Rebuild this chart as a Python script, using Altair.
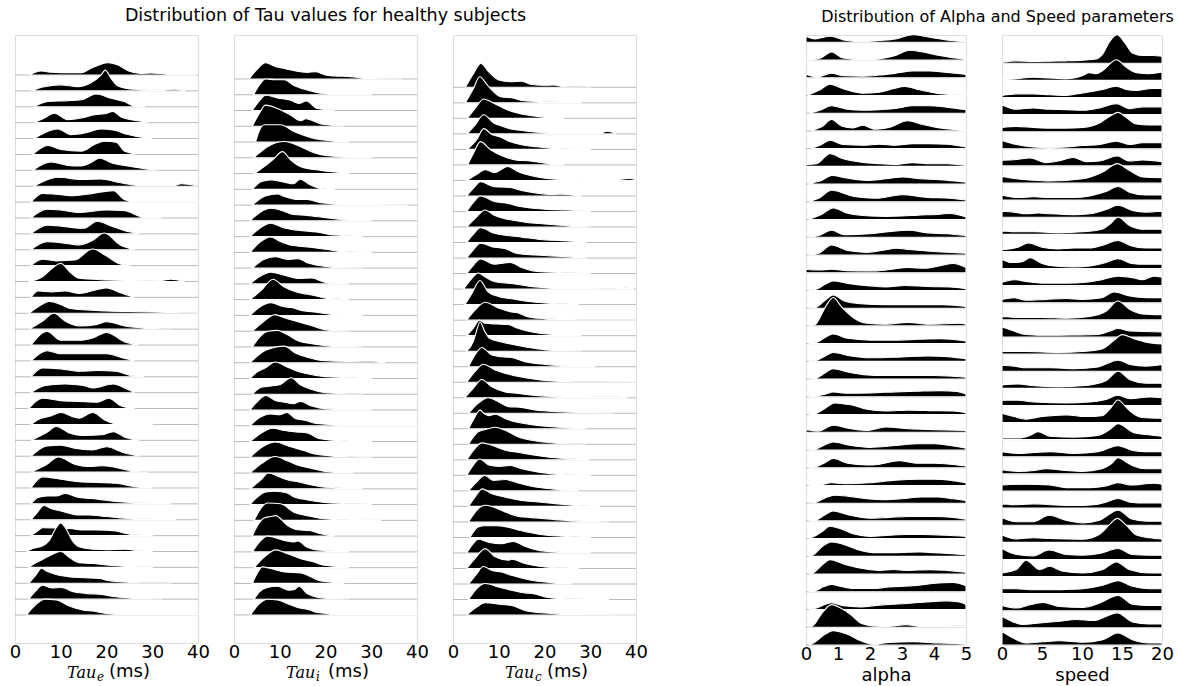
import altair as alt
import pandas as pd

# ---------------- data ----------------
# each row: list of (x, height) control points; height in units of the row spacing
TAU_E_ROWS = [
    [(3.1,0),(5.7,0.25),(8,0.17),(10,0.15),(14.5,0.15),(16.6,0.42),(20.3,0.78),(22.5,0.63),(24.7,0.27),(27.6,0.1),(29.8,0.13),(33.4,0.06),(39.6,0.03)],
    [(3.5,0),(6.4,0.27),(10,0.38),(13.7,0.27),(16.6,0.52),(18.8,1.0),(19.7,1.31),(21,0.79),(22.5,0.31),(26,0.1),(29.8,0.06),(34.9,0.1),(37.1,0.04)],
    [(4.2,0),(7.2,0.33),(11.5,0.38),(14.5,0.44),(17.7,0.81),(21,0.54),(23.9,0.33),(26,0.06),(28.3,0.02)],
    [(4.2,0),(6.4,0.29),(8.6,0.6),(11.5,0.19),(14.5,0.29),(17.4,0.5),(19.6,0.56),(21.4,0.71),(23.2,0.35),(26,0.15),(29,0.04)],
    [(4.2,0),(6.4,0.35),(9.3,0.6),(12.3,0.25),(15.2,0.35),(18.8,0.6),(21.7,0.52),(24.7,0.25),(27.6,0.08),(29.8,0.04)],
    [(3.9,0),(7.2,0.56),(10,0.31),(14.5,0.21),(17.4,0.63),(19.6,0.83),(22.1,0.77),(23.9,0.21),(26,0.04)],
    [(3.9,0),(7.9,0.52),(11.5,0.31),(14.5,0.27),(16.6,0.48),(18.5,0.77),(21,0.48),(24.7,0.27),(28.3,0.1),(31.2,0.04)],
    [(4.2,0),(7.2,0.42),(9.3,0.56),(14.5,0.42),(18.8,0.46),(22.5,0.25),(26,0.08),(28.3,0.04),(34.5,0.04),(36.4,0.15),(39.6,0.04)],
    [(3.5,0),(6,0.55),(9,0.5),(13,0.4),(17,0.55),(21.5,0.72),(24,0.15),(26,0.05),(40,0.03)],
    [(3.5,0),(7,0.55),(10,0.5),(14,0.35),(20,0.5),(24,0.45),(28,0.05),(32,0.02)],
    [(3.5,0),(7,0.55),(11,0.45),(15,0.35),(18,0.8),(21,0.5),(24,0.2),(27,0.02)],
    [(3.5,0),(7,0.5),(10,0.45),(14,0.3),(17,0.6),(19.5,1.05),(23,0.3),(26,0.02)],
    [(3.5,0),(6,0.4),(9,0.3),(13,0.35),(17,1.05),(20,0.6),(23,0.1),(25,0.02)],
    [(3,0),(6,0.3),(8,0.8),(10,1.15),(12,0.6),(14,0.2),(20,0.1),(28,0.05),(32,0.06),(34,0.15),(37,0.02)],
    [(3.5,0),(5,0.4),(8,0.35),(11,0.4),(14,0.25),(18,0.5),(20,0.6),(23,0.3),(26,0.02)],
    [(3,0),(5,0.4),(7.5,0.75),(10,0.55),(12,0.3),(20,0.15),(28,0.1),(35,0.05),(40,0.02)],
    [(3,0),(6,0.5),(8.5,1.0),(11,0.5),(14,0.2),(18,0.3),(20,0.47),(24,0.2),(30,0.05),(34,0.02)],
    [(3.5,0),(7,0.85),(10,0.3),(14,0.3),(17,0.45),(20,0.8),(24,0.2),(27,0.02)],
    [(3.5,0),(7,0.65),(10,0.45),(15,0.45),(20,0.45),(24,0.15),(26,0.02)],
    [(3.5,0),(6,0.55),(10,0.5),(14,0.35),(18,0.4),(22,0.35),(25,0.1),(28,0.02)],
    [(3.5,0),(6,0.4),(8,0.5),(11,0.55),(15,0.45),(17,0.3),(21.5,0.55),(24,0.3),(26,0.02)],
    [(3,0),(6,0.65),(10,0.5),(14,0.45),(18,0.4),(20.5,0.65),(23,0.2),(26,0.02)],
    [(3.5,0),(5,0.3),(8,0.55),(10,0.75),(13,0.45),(14,0.4),(17,0.75),(19.5,0.3),(22,0.05),(27,0.05),(30,0.02)],
    [(3.5,0),(7,0.5),(9,0.87),(12,0.45),(15,0.3),(19,0.35),(21.5,0.55),(24,0.2),(27,0.02)],
    [(3.5,0),(7,0.65),(10,0.7),(13,0.5),(17,0.4),(20,0.6),(24,0.2),(27,0.02)],
    [(3.5,0),(7,0.5),(9.5,0.95),(13,0.5),(16,0.35),(19,0.4),(22,0.3),(26,0.05),(29,0.02)],
    [(3.5,0),(6,0.7),(10,0.55),(14,0.4),(18,0.35),(22,0.3),(26,0.1),(30,0.02)],
    [(3.5,0),(5,0.4),(7,0.5),(9,0.5),(11,0.65),(14,0.4),(18,0.3),(22,0.15),(30,0.05),(31,0.05),(34,0.02)],
    [(3.5,0),(5,0.5),(6.3,0.9),(8,0.7),(10,0.55),(14,0.3),(16,0.3),(20,0.2),(24,0.1),(30,0.04),(35,0.02)],
    [(3.5,0),(5,0.3),(6,0.5),(9,0.48),(12,0.45),(15,0.35),(18,0.35),(22,0.3),(24,0.15),(26,0.05),(30,0.02)],
    [(2.5,0),(4,0.2),(6,0.35),(7.5,0.7),(9,1.5),(10,1.8),(11,1.5),(12.5,0.7),(14,0.3),(17,0.15),(20,0.12),(24,0.15),(27,0.05),(30,0.02)],
    [(3,0),(4,0.2),(6,0.5),(8,0.8),(10,1.0),(12,0.6),(14,0.3),(17,0.25),(20,0.15),(26,0.05),(30,0.02)],
    [(3,0),(4.5,0.5),(5.8,0.95),(7,0.75),(9,0.55),(12,0.4),(15,0.35),(18.5,0.3),(20,0.2),(23,0.1),(30,0.03),(34,0.02)],
    [(3,0),(4.5,0.5),(6,0.88),(8,0.7),(10,0.73),(13,0.45),(16,0.35),(19,0.3),(22,0.15),(28,0.05),(32,0.02)],
    [(2.5,0),(4,0.5),(6.5,1.0),(9,0.95),(12,0.55),(15,0.3),(17,0.25),(20,0.1),(24,0.05),(40,0.03)],
]

TAU_I_ROWS = [
    [(3.3,0),(5,0.6),(6.9,1.03),(9,0.8),(11,0.67),(14.6,0.46),(16,0.42),(17.9,0.46),(20,0.25),(21.9,0.19),(25.5,0.15),(29,0.05),(36.5,0.01)],
    [(4.3,0),(5.5,0.6),(6.9,1.0),(9,0.95),(11,0.95),(13,0.6),(16,0.3),(19,0.1),(25,0.03),(30,0.01)],
    [(4,0),(5.5,0.6),(6.9,0.97),(9.5,0.8),(12.4,0.65),(14.2,0.45),(15.8,0.6),(18.2,0.13),(21.9,0.03)],
    [(4,0),(5.5,0.8),(6.9,1.34),(9.5,1.13),(12.4,0.7),(14.6,0.36),(15.7,0.48),(19,0.15),(24,0.03)],
    [(4.7,0),(5.5,0.7),(6.6,1.1),(10.2,1.1),(13.1,0.67),(16,0.36),(19,0.15),(25,0.03)],
    [(4.3,0),(5.1,0.2),(7.3,0.7),(11,1.03),(14.6,0.7),(16.8,0.4),(19,0.2),(25,0.05),(30,0.01)],
    [(4.5,0),(6.6,0.44),(8.4,0.86),(10.6,1.39),(12.4,0.86),(14.6,0.44),(19,0.2),(25,0.03)],
    [(4,0),(6,0.5),(8,0.6),(11,0.45),(13,0.35),(14.5,0.65),(16.5,0.3),(19,0.05),(22,0.01)],
    [(4,0),(7,0.6),(9.5,0.7),(11,0.55),(14,0.35),(16,0.35),(19,0.15),(24,0.05),(38,0.02)],
    [(3.5,0),(5.5,0.5),(8,0.8),(11,0.6),(13,0.4),(16,0.35),(20,0.2),(25,0.05),(30,0.01)],
    [(3.5,0),(5.5,0.5),(8,0.85),(11,0.55),(14,0.4),(18,0.3),(22,0.1),(28,0.03)],
    [(3.5,0),(5.5,0.6),(8,0.98),(10,0.7),(12.5,0.45),(16,0.35),(20,0.2),(24,0.05),(30,0.01)],
    [(4,0),(6.5,0.55),(9,0.72),(12,0.55),(14,0.6),(16,0.35),(19,0.15),(23,0.05),(28,0.01)],
    [(3.5,0),(5.5,0.45),(8,0.75),(11,0.55),(14,0.35),(17,0.38),(20,0.1),(25,0.03)],
    [(3.5,0),(6,0.6),(8.5,1.3),(11,0.8),(13,0.55),(15,0.4),(17,0.3),(20,0.1),(25,0.02)],
    [(3.5,0),(5.5,0.5),(8,0.8),(11,0.55),(12.5,0.5),(15,0.3),(18,0.2),(22,0.05),(28,0.01)],
    [(4,0),(6,0.5),(9,1.05),(11,0.85),(14,0.6),(17,0.35),(20,0.1),(25,0.02)],
    [(4,0),(5.5,0.6),(7.5,1.0),(9.5,1.05),(11.5,0.8),(14,0.4),(17,0.2),(22,0.05),(28,0.01)],
    [(3.5,0),(5,0.4),(7,0.8),(11,1.05),(13.5,0.6),(16,0.35),(19,0.15),(25,0.08),(30,0.1),(33,0.01)],
    [(3.5,0),(5,0.4),(7,0.7),(9,1.05),(11.5,0.75),(14,0.45),(16,0.3),(19,0.15),(25,0.05),(30,0.01)],
    [(4,0),(6,0.45),(9,0.55),(10,0.6),(12.5,1.05),(14.5,0.6),(17,0.3),(20,0.1),(28,0.03)],
    [(3.5,0),(5,0.5),(7,0.92),(9,0.6),(11,0.5),(13,0.4),(14.5,0.55),(17,0.25),(20,0.08),(30,0.03)],
    [(3.5,0),(5.5,0.5),(8,0.75),(10,0.7),(11.5,0.85),(13.5,0.45),(15.5,0.35),(18,0.15),(25,0.05),(40,0.02)],
    [(3.5,0),(5.5,0.45),(8.5,0.85),(11,0.7),(14,0.6),(16,0.55),(18.5,0.2),(24,0.05),(30,0.01)],
    [(3.5,0),(5,0.4),(7,0.8),(9,0.97),(12,0.7),(15,0.45),(18,0.2),(24,0.05),(30,0.01)],
    [(3.5,0),(6,0.6),(9,1.05),(11.5,0.8),(14,0.5),(17,0.3),(20,0.1),(26,0.03)],
    [(3.5,0),(6,0.6),(7.5,1.0),(10,0.75),(12,0.55),(14,0.45),(17,0.25),(20,0.1),(28,0.03)],
    [(3.5,0),(5,0.45),(7,0.8),(9,0.85),(11.5,0.75),(13,0.5),(15,0.35),(18,0.2),(21,0.1),(30,0.03)],
    [(4.4,0),(5.5,0.6),(7.3,1.1),(10.2,1.05),(13.1,0.52),(16,0.3),(19.7,0.1),(25.5,0.03),(32,0.01)],
    [(4,0),(5,0.6),(6.6,1.15),(8,1.24),(9.1,1.3),(11.7,0.67),(13.9,0.4),(16.4,0.36),(19,0.15),(21.9,0.03)],
    [(4,0),(5.5,0.6),(7.3,1.0),(11,0.73),(13.1,0.63),(13.9,0.69),(16,0.3),(19,0.1),(25,0.02)],
    [(4.4,0),(6.6,0.67),(9.1,1.13),(11.7,0.88),(14.6,0.57),(17.5,0.36),(19.7,0.15),(25,0.03)],
    [(4,0),(5,0.6),(6.2,1.05),(8,0.95),(11,0.73),(14.6,0.67),(16.8,0.42),(19,0.15),(24,0.03)],
    [(4.4,0),(5.5,0.45),(7.3,0.74),(9.5,0.82),(12,0.57),(13.1,0.6),(14.2,0.82),(16,0.36),(19,0.1),(25,0.02)],
    [(3.6,0),(5.5,0.7),(7.3,1.0),(9.5,0.95),(12.4,0.63),(14.6,0.42),(16,0.36),(18.2,0.15),(24,0.03),(40,0.02)],
]

TAU_C_ROWS = [
    [(2.7,0),(4.5,0.9),(6.1,1.53),(7.8,1.0),(10,0.47),(12.5,0.36),(15.1,0.4),(16.9,0.2),(19.8,0.13),(22,0.15),(24.2,0.05),(30,0.02)],
    [(2.7,0),(4.5,0.94),(5.8,1.68),(7.8,1.04),(10.4,0.4),(13.3,0.3),(15.5,0.13),(19,0.08),(28,0.02)],
    [(3.1,0),(4.9,0.66),(6.7,1.25),(8.9,0.98),(11.8,0.55),(14.7,0.3),(18.4,0.13),(24.2,0.03)],
    [(3.1,0),(4.9,0.6),(6.7,1.23),(8.9,0.7),(10.7,0.5),(12.2,0.35),(14.7,0.23),(18.4,0.1),(25.7,0.02),(31.9,0.02),(33.7,0.17),(35.5,0.01)],
    [(3.1,0),(5.2,0.64),(6.7,1.34),(8.5,0.96),(10.3,0.8),(12.2,0.53),(14.7,0.32),(18.4,0.17),(22.7,0.06),(30,0.02)],
    [(3.2,0),(4.5,0.77),(6,1.5),(8.2,0.98),(11.1,0.55),(14,0.3),(16.9,0.26),(19.8,0.13),(24.2,0.04)],
    [(3,0),(5.5,0.45),(7,0.7),(9,0.5),(12,0.9),(14,0.6),(16.5,0.35),(20,0.15),(25,0.05),(35,0.02),(38.5,0.13),(40,0.05)],
    [(3,0),(4.5,0.5),(6,0.92),(9,0.6),(12.5,0.55),(15,0.35),(18,0.2),(22,0.1),(23.5,0.12),(28,0.03)],
    [(3,0),(4.5,0.6),(6,1.0),(9,0.65),(11.5,0.55),(15,0.3),(20,0.15),(24.5,0.1),(28,0.05),(30,0.01)],
    [(3,0),(5,0.6),(7,1.1),(9,0.75),(12,0.5),(16,0.3),(20,0.2),(27,0.05),(30,0.01)],
    [(3,0),(4.5,0.55),(6,0.95),(9,0.6),(12,0.45),(15,0.35),(19,0.2),(24,0.12),(29,0.03)],
    [(3,0),(4.5,0.55),(6,0.95),(9,0.7),(11.5,0.6),(14,0.3),(18,0.2),(24,0.1),(29,0.03)],
    [(3,0),(4.5,0.55),(6,0.95),(9,0.6),(12.5,0.72),(15,0.4),(18,0.15),(25,0.05),(30,0.01)],
    [(2.3,0),(4.1,0.68),(5.5,1.04),(7,0.79),(9.2,0.47),(12.8,0.36),(16.5,0.19),(23.8,0.06),(35,0.02),(37.6,0.08),(39.5,0.02)],
    [(2.6,0),(4.1,0.7),(5.9,1.55),(7.7,0.81),(9.9,0.53),(12.8,0.38),(15.7,0.23),(20.1,0.1),(27.4,0.02)],
    [(3,0),(4.8,0.64),(7,1.15),(9.9,0.79),(12.8,0.53),(13.9,0.49),(16.5,0.21),(20.1,0.1),(28,0.03),(40,0.02)],
    [(3,0),(4.4,0.47),(5.8,1.0),(7,0.8),(9.5,0.75),(12,0.72),(14,0.5),(17,0.25),(21,0.1),(22.5,0.08),(28,0.02)],
    [(3,0),(4.4,0.6),(5.2,1.35),(5.9,1.88),(7,1.24),(8.1,0.81),(10.6,0.6),(12.8,0.45),(16.5,0.24),(20.1,0.1),(28,0.02)],
    [(3.4,0),(4.8,0.75),(6.3,1.24),(8.5,0.75),(10.6,0.64),(12.8,0.6),(15.7,0.32),(19.4,0.17),(23.8,0.06),(31,0.02)],
    [(3,0),(4.8,0.68),(6.6,1.16),(9.2,0.79),(12.8,0.47),(16.5,0.26),(20.1,0.11),(27,0.03),(37,0.02),(39,0.06),(40,0.02)],
    [(2.6,0),(4.4,0.6),(6.3,1.18),(8.5,0.7),(11.4,0.38),(14.3,0.28),(17.2,0.17),(21.6,0.08),(27,0.04),(31.8,0.06),(35.4,0.06),(38,0.02)],
    [(3.4,0),(5.5,0.64),(7.7,1.0),(9.9,0.75),(12.1,0.43),(15,0.38),(17.9,0.21),(23.8,0.1),(31,0.04),(35,0.01)],
    [(3.4,0),(4.8,0.77),(5.9,1.2),(7,0.94),(7.8,0.85),(9.2,0.94),(11.4,0.66),(13.6,0.45),(16.5,0.3),(21.6,0.13),(28.9,0.04)],
    [(3.4,0),(5.5,0.8),(7.7,1.0),(9.2,1.1),(11.4,0.9),(14.3,0.47),(17.2,0.26),(21.6,0.1),(28.9,0.02)],
    [(3,0),(4.8,0.73),(6.3,1.09),(8.5,0.94),(11.4,0.62),(15,0.45),(17.9,0.3),(22.3,0.13),(29.6,0.03)],
    [(3,0),(4.4,0.64),(5.8,1.05),(8,0.65),(10,0.58),(12.5,0.64),(15,0.43),(18.7,0.21),(23.8,0.06),(30,0.02)],
    [(3.4,0),(5.2,0.58),(6.9,1.0),(8.8,0.68),(11.4,0.73),(14.3,0.51),(17.2,0.3),(21.6,0.13),(27.4,0.03)],
    [(3.4,0),(4.8,0.6),(6.4,1.13),(8.5,0.81),(11.4,0.6),(15,0.38),(18.7,0.28),(22.3,0.17),(27.4,0.06),(32,0.02)],
    [(3.4,0),(5.2,0.75),(7,1.07),(8.8,0.96),(11.4,0.64),(14.3,0.36),(17.2,0.28),(22.3,0.15),(29.6,0.04),(34,0.01)],
    [(3.7,0),(5.5,0.68),(7,0.75),(9.5,0.75),(11.7,0.68),(15,0.43),(18.7,0.21),(23.8,0.08),(30,0.02)],
    [(3,0),(4.4,0.6),(5.5,0.88),(7.7,0.7),(10.6,0.6),(13.2,0.75),(15.7,0.43),(18.7,0.17),(23.8,0.06),(30,0.02)],
    [(3,0),(4.8,0.64),(7,1.28),(9.2,0.75),(12.1,0.53),(12.8,0.6),(15.7,0.32),(20.1,0.1),(27.4,0.02)],
    [(3.4,0),(5.2,0.66),(6.6,1.13),(8.5,0.88),(10.6,0.77),(12.8,0.56),(16.5,0.28),(20.1,0.13),(25.9,0.03)],
    [(3.4,0),(5.2,0.7),(7,1.03),(9.9,0.81),(12.8,0.6),(15.7,0.43),(17.6,0.38),(20.1,0.17),(23.8,0.06),(34,0.01)],
    [(3,0),(5.2,0.51),(7,0.79),(10.6,0.68),(12.8,0.62),(15.7,0.3),(20.1,0.13),(27.4,0.04),(40,0.02)],
]

ALPHA_ROWS = [
    [(0,0.34),(0.28,0.19),(0.75,0.34),(1.27,0.1),(1.78,0.04),(2.3,0.1),(2.8,0.19),(3.34,0.42),(3.86,0.28),(4.4,0.13),(5,0.04)],
    [(0,0.02),(0.44,0.1),(0.8,0.45),(1.16,0.11),(1.78,0.04),(2.3,0.08),(2.8,0.26),(3.24,0.55),(3.65,0.45),(4.17,0.26),(4.67,0.11),(5,0.04)],
    [(0,0.19),(0.33,0.04),(0.8,0.25),(1.16,0.11),(1.78,0.09),(2.3,0.15),(2.8,0.25),(3.34,0.38),(3.86,0.38),(4.4,0.3),(5,0.19)],
    [(0.07,0.02),(0.44,0.32),(0.75,0.64),(1.16,0.38),(1.78,0.13),(2.3,0.19),(2.72,0.38),(3.08,0.51),(3.55,0.32),(4.07,0.13),(4.67,0.04),(5,0.02)],
    [(0.12,0.02),(0.44,0.17),(0.8,0.42),(1.27,0.23),(1.78,0.17),(2.3,0.2),(2.8,0.26),(3.34,0.42),(3.86,0.42),(4.4,0.34),(5,0.2)],
    [(0.18,0.02),(0.49,0.23),(0.8,0.64),(1.11,0.28),(1.47,0.17),(1.78,0.32),(2.15,0.09),(2.6,0.19),(3.18,0.57),(3.65,0.36),(4.17,0.17),(4.67,0.08),(5,0.04)],
    [(0.18,0.02),(0.44,0.19),(0.75,0.47),(1.16,0.23),(1.78,0.19),(2.3,0.25),(2.8,0.19),(3.34,0.28),(3.86,0.28),(4.4,0.25),(5,0.09)],
    [(0,0.11),(0.33,0.15),(0.75,0.72),(1.16,0.43),(1.68,0.25),(2.3,0.15),(2.8,0.11),(3.34,0.21),(3.86,0.15),(4.4,0.15),(5,0.06)],
    [(0.1,0.02),(0.23,0.08),(0.49,0.21),(0.8,0.49),(1.27,0.34),(1.89,0.21),(2.5,0.3),(3.03,0.4),(3.55,0.3),(4.17,0.25),(5,0.11)],
    [(0.1,0.02),(0.4,0.2),(0.8,0.65),(1.5,0.3),(2.2,0.2),(3.0,0.4),(3.8,0.25),(4.5,0.2),(5,0.1)],
    [(0.1,0.02),(0.5,0.3),(0.85,0.66),(1.3,0.35),(2,0.2),(2.5,0.18),(3,0.2),(3.5,0.25),(4.2,0.3),(4.5,0.35),(5,0.15)],
    [(0.1,0.02),(0.4,0.1),(0.8,0.4),(1.2,0.15),(2,0.2),(2.5,0.3),(3.2,0.4),(3.8,0.25),(4.4,0.2),(5,0.1)],
    [(0.1,0.02),(0.4,0.1),(0.8,0.57),(1.3,0.25),(1.9,0.15),(2.5,0.3),(2.8,0.38),(3.3,0.3),(4,0.2),(5,0.1)],
    [(0,0.2),(0.4,0.15),(0.8,0.2),(1.3,0.12),(2,0.1),(2.5,0.15),(3.2,0.3),(3.7,0.25),(4.2,0.4),(4.6,0.52),(5,0.3)],
    [(0.1,0.02),(0.3,0.05),(0.6,0.35),(0.85,0.54),(1.3,0.4),(2,0.25),(2.5,0.2),(3.1,0.28),(3.8,0.22),(4.5,0.2),(5,0.1)],
    [(0.1,0.02),(0.3,0.05),(0.6,0.45),(0.85,0.75),(1.2,0.4),(1.7,0.25),(2.5,0.2),(3.5,0.2),(4.3,0.2),(5,0.1)],
    [(0.1,0.02),(0.3,0.1),(0.5,0.7),(0.65,1.2),(0.85,1.6),(1.1,1.1),(1.45,0.5),(1.9,0.15),(2.5,0.1),(3.2,0.2),(3.8,0.1),(4.3,0.12),(4.8,0.15),(5,0.1)],
    [(0.1,0.02),(0.3,0.05),(0.6,0.35),(0.85,0.55),(1.3,0.3),(2,0.2),(2.8,0.2),(3.5,0.25),(4.2,0.28),(5,0.15)],
    [(0.1,0.02),(0.3,0.05),(0.6,0.3),(0.85,0.5),(1.4,0.3),(2,0.2),(3,0.25),(3.8,0.3),(4.3,0.28),(5,0.15)],
    [(0.1,0.02),(0.3,0.05),(0.6,0.35),(0.85,0.59),(1.3,0.4),(1.8,0.25),(2.5,0.2),(3.2,0.2),(4,0.2),(5,0.1)],
    [(0.1,0.02),(0.3,0.05),(0.6,0.15),(0.85,0.27),(1.3,0.2),(2,0.22),(2.8,0.28),(3.5,0.32),(4.2,0.35),(4.7,0.3),(5,0.15)],
    [(0.1,0.02),(0.3,0.05),(0.6,0.35),(0.9,0.65),(1.2,0.6),(1.4,0.55),(1.9,0.3),(2.5,0.2),(3.2,0.25),(4,0.22),(4.6,0.2),(5,0.1)],
    [(0,0.15),(0.4,0.08),(0.85,0.4),(1.4,0.2),(1.9,0.1),(2.5,0.3),(3.2,0.2),(4,0.15),(5,0.1)],
    [(0.1,0.02),(0.3,0.05),(0.6,0.3),(0.85,0.45),(1.4,0.25),(2,0.15),(2.8,0.25),(3.5,0.35),(4,0.35),(4.5,0.25),(5,0.1)],
    [(0.1,0.02),(0.3,0.05),(0.6,0.3),(0.85,0.52),(1.3,0.25),(1.9,0.15),(2.3,0.2),(2.9,0.4),(3.5,0.25),(4,0.25),(4.5,0.2),(5,0.1)],
    [(0.1,0.01),(0.4,0.02),(0.8,0.15),(1.2,0.1),(2,0.15),(2.8,0.3),(3.5,0.35),(4,0.35),(4.5,0.3),(5,0.15)],
    [(0.1,0.02),(0.3,0.05),(0.6,0.3),(0.9,0.45),(1.3,0.4),(1.9,0.25),(2.5,0.2),(3,0.25),(3.6,0.35),(4.1,0.35),(4.6,0.25),(5,0.15)],
    [(0.1,0.02),(0.3,0.05),(0.6,0.35),(0.85,0.56),(1.3,0.35),(2,0.15),(2.6,0.2),(3.2,0.25),(4,0.25),(4.6,0.2),(5,0.1)],
    [(0.1,0.02),(0.23,0.1),(0.49,0.38),(0.75,0.7),(1.06,0.57),(1.47,0.28),(2,0.13),(2.6,0.19),(3.13,0.23),(3.65,0.23),(4.38,0.19),(5,0.13)],
    [(0.1,0.02),(0.23,0.09),(0.49,0.53),(0.8,0.81),(1.27,0.62),(1.68,0.34),(2.1,0.21),(2.82,0.21),(3.55,0.25),(4.17,0.19),(5,0.09)],
    [(0.1,0.02),(0.23,0.08),(0.49,0.49),(0.75,0.81),(1.16,0.58),(1.68,0.34),(2.3,0.21),(2.72,0.26),(3.13,0.21),(3.86,0.25),(5,0.11)],
    [(0.1,0.02),(0.33,0.09),(0.54,0.28),(0.8,0.42),(1.06,0.32),(1.47,0.19),(2.1,0.19),(2.6,0.28),(3.34,0.34),(3.96,0.47),(4.59,0.53),(5,0.34)],
    [(0.1,0.02),(0.33,0.09),(0.54,0.25),(0.8,0.38),(1.16,0.21),(1.68,0.15),(2.3,0.25),(3.13,0.34),(3.76,0.43),(4.38,0.49),(4.79,0.43),(5,0.28)],
    [(0.1,0.02),(0.23,0.11),(0.49,0.77),(0.8,1.28),(1.11,1.06),(1.42,0.68),(1.73,0.21),(2.1,0.08),(2.6,0.06),(3.13,0.15),(3.55,0.06),(5,0.08)],
    [(0.1,0.02),(0.23,0.11),(0.54,0.53),(0.85,0.81),(1.27,0.62),(1.78,0.19),(2.1,0.06),(2.6,0.15),(3.34,0.19),(4.17,0.11),(4.69,0.09),(5,0.06)],
]

SPEED_ROWS = [
    [(0,0.06),(1.8,0.14),(3.9,0.1),(5.9,0.12),(8,0.14),(10.1,0.18),(11.8,0.25),(12.6,0.54),(13.4,1.23),(14.4,1.67),(15.3,1.23),(16.3,0.6),(17.6,0.45),(18.8,0.45),(20,0.41)],
    [(0,0.06),(1.8,0.1),(3.9,0.18),(5.9,0.14),(8,0.1),(10.1,0.29),(10.9,0.45),(11.8,0.39),(12.6,0.58),(14.3,1.2),(15.5,0.78),(16.8,0.45),(18.4,0.39),(20,0.49)],
    [(0,0.12),(1.8,0.21),(3.9,0.21),(5.9,0.16),(8,0.12),(10.1,0.27),(12.6,0.47),(14.3,0.66),(15.5,0.47),(16.8,0.41),(18.4,0.51),(20,0.54)],
    [(0,0.58),(1.8,0.31),(3.9,0.39),(5.9,0.31),(8,0.29),(10.1,0.25),(12.2,0.39),(14.3,0.64),(15.9,0.35),(17.6,0.45),(20,0.45)],
    [(0,0.25),(1.8,0.31),(3.9,0.25),(5.9,0.21),(8,0.21),(10.1,0.25),(12.2,0.51),(13.6,0.93),(14.5,1.13),(15.5,0.84),(16.8,0.45),(18.4,0.39),(20,0.39)],
    [(0,0.49),(1.8,0.25),(3.9,0.1),(5.9,0.06),(8,0.1),(10.1,0.19),(12.2,0.25),(14.3,0.45),(15.9,0.25),(17.6,0.35),(20,0.35)],
    [(0,0.33),(1.8,0.37),(3.5,0.47),(5.5,0.19),(7.2,0.31),(8.9,0.49),(10.5,0.25),(12.2,0.29),(14.4,0.58),(15.9,0.29),(17.6,0.35),(20,0.25)],
    [(0,0.39),(1.8,0.25),(3.9,0.16),(5.9,0.12),(10.1,0.25),(12.6,0.64),(14.4,1.13),(15.9,0.74),(17.6,0.35),(20,0.31)],
    [(0,0.3),(2,0.15),(4,0.2),(6,0.15),(9,0.15),(11,0.25),(13,0.5),(14.5,0.8),(16,0.45),(18,0.3),(20,0.3)],
    [(0,0.35),(1.5,0.3),(3,0.2),(4.5,0.25),(6,0.2),(9,0.15),(11,0.2),(13,0.45),(14.5,0.7),(16.3,0.4),(18,0.3),(20,0.35)],
    [(0,0.2),(2,0.15),(4,0.15),(7,0.1),(10,0.15),(12.5,0.3),(13.5,0.6),(14.5,1.0),(16,0.5),(17.5,0.3),(20,0.3)],
    [(0,0.1),(2,0.25),(3.3,0.49),(5,0.25),(7,0.15),(9,0.2),(11,0.2),(12.5,0.35),(14.5,0.65),(16,0.35),(18,0.2),(20,0.2)],
    [(0,0.55),(1.2,0.35),(2.5,0.4),(3.5,0.63),(5,0.3),(6.5,0.15),(9,0.1),(11,0.15),(13,0.35),(14.5,0.58),(16.2,0.3),(18,0.25),(20,0.25)],
    [(0,0.2),(1.5,0.35),(3,0.25),(5,0.15),(8,0.15),(10.5,0.2),(12.5,0.35),(14.5,0.56),(16.5,0.45),(17.5,0.35),(19,0.56),(20,0.5)],
    [(0,0.2),(1.5,0.3),(3,0.15),(5.5,0.2),(8,0.25),(10,0.2),(12.5,0.3),(14,0.63),(16,0.4),(18,0.3),(20,0.3)],
    [(0,0.2),(2,0.15),(5,0.15),(8,0.1),(11,0.2),(13,0.5),(14.5,1.1),(16,0.6),(17.5,0.35),(20,0.3)],
    [(0,0.6),(1.5,0.35),(3,0.15),(6,0.1),(9,0.12),(12,0.15),(13.5,0.35),(14.5,0.5),(16,0.35),(20,0.3)],
    [(0,0.15),(3,0.15),(7,0.1),(10,0.15),(12.5,0.3),(14,0.8),(15,1.14),(16.5,0.9),(18,0.7),(20,0.6)],
    [(0,0.35),(1.5,0.3),(3,0.2),(6,0.2),(9,0.15),(12,0.25),(14.5,0.65),(16,0.4),(18,0.3),(20,0.4)],
    [(0,0.2),(2,0.25),(4,0.15),(7,0.1),(10,0.15),(13,0.45),(14.5,1.0),(16,0.5),(18,0.3),(20,0.3)],
    [(0,0.3),(2,0.3),(4,0.2),(8,0.15),(11,0.2),(13,0.35),(14.5,0.6),(16,0.4),(18.5,0.5),(20,0.45)],
    [(0,0.55),(1.5,0.35),(3,0.2),(5,0.35),(8,0.45),(10.5,0.35),(12.5,0.4),(13.5,0.8),(14.5,1.32),(15.5,0.9),(16.2,0.6),(17.5,0.3),(20,0.25)],
    [(0,0.1),(2,0.1),(3.5,0.25),(4.5,0.46),(6,0.2),(9,0.15),(12,0.25),(13.5,0.6),(14.5,0.93),(16.5,0.4),(18,0.3),(20,0.2)],
    [(0,0.3),(2,0.2),(4,0.25),(6,0.3),(9,0.2),(12,0.3),(14.5,0.65),(16.5,0.35),(18,0.3),(20,0.3)],
    [(0,0.25),(2,0.15),(4,0.2),(5.5,0.3),(8,0.2),(10,0.15),(12.5,0.3),(13.7,0.6),(14.5,0.95),(15.5,0.7),(16.5,0.45),(18,0.3),(20,0.3)],
    [(0,0.35),(3,0.4),(6,0.35),(8,0.2),(11,0.2),(13,0.3),(14.5,0.49),(16,0.35),(19,0.45),(20,0.4)],
    [(0,0.25),(2,0.2),(4,0.25),(6,0.2),(9,0.15),(11.5,0.2),(13,0.35),(14.5,0.56),(16,0.35),(18,0.3),(20,0.3)],
    [(0,0.45),(1.8,0.2),(3.9,0.2),(5.9,0.58),(8,0.29),(10.1,0.14),(12.2,0.29),(14.5,0.88),(16.3,0.35),(18.4,0.23),(20,0.23)],
    [(0,0.43),(1.8,0.2),(3.9,0.27),(5.9,0.23),(8,0.2),(10.1,0.18),(12.2,0.47),(13.6,1.11),(14.4,1.4),(15.5,1.01),(16.8,0.43),(18.4,0.27),(20,0.2)],
    [(0,0.64),(1.8,0.29),(3.9,0.21),(5.9,0.55),(8,0.29),(10.1,0.25),(12.2,0.35),(14.5,0.64),(16.3,0.29),(18.4,0.25),(20,0.25)],
    [(0,0.21),(1.8,0.41),(3,0.96),(4.7,0.41),(5.9,0.6),(7.6,0.31),(10.1,0.21),(12.6,0.41),(14.3,0.86),(15.9,0.41),(18.4,0.21),(20,0.21)],
    [(0,0.29),(1.8,0.29),(3.9,0.23),(5.9,0.23),(8,0.25),(10.1,0.29),(12.6,0.49),(14.5,0.76),(16.3,0.43),(18.4,0.29),(20,0.29)],
    [(0,0.31),(1.8,0.16),(3.5,0.35),(5.1,0.49),(7.2,0.25),(10.1,0.2),(12.2,0.45),(14.5,0.9),(16.3,0.39),(18.4,0.31),(20,0.31)],
    [(0,0.68),(1.4,0.35),(2.6,0.2),(4.7,0.29),(7.2,0.39),(9.3,0.49),(11.4,0.43),(14.4,0.88),(16.3,0.35),(18.4,0.23),(20,0.23)],
    [(0,0.78),(1.8,0.31),(3,0.12),(5.1,0.19),(7.2,0.25),(10.1,0.16),(12.6,0.31),(14.5,0.7),(16.3,0.31),(18.4,0.12),(20,0.12)],
]

TAU_TICKS = [0, 10, 20, 30, 40]
ALPHA_TICKS = [0, 1, 2, 3, 4, 5]
SPEED_TICKS = [0, 5, 10, 15, 20]
TITLE_TAU = "Distribution of Tau values for healthy subjects"
TITLE_AS = "Distribution of Alpha and Speed parameters"
TAU_SUBS = ["e", "i", "c"]

N = 35
TAU_W, TAU_H = 183, 608
AS_W, AS_H = 160, 610


def txt(text, x, y, size, font="DejaVu Sans", style="normal", align="left"):
    return alt.Chart(pd.DataFrame({"t": [text]})).mark_text(
        align=align, baseline="alphabetic", font=font, fontSize=size,
        fontStyle=style, color="black"
    ).encode(text="t:N", x=alt.value(x), y=alt.value(y))


def panel(rows, xmax, ticks, ydom, w, h, axis_title=None, extra=()):
    recs = []
    for r, pts in enumerate(rows):
        for x, v in pts:
            recs.append({"key": f"r{r:02d}", "x": x, "base": N - 1 - r, "top": N - 1 - r + v})
    df = pd.DataFrame(recs)
    bl = pd.DataFrame({
        "key": [f"r{r:02d}" for r in range(N)],
        "base": [N - 1 - r for r in range(N)],
        "x": [0.0] * N,
        "x1": [float(xmax)] * N,
    })
    xs = alt.Scale(domain=[0, xmax], nice=False, zero=False)
    ys = alt.Scale(domain=ydom, nice=False, zero=False)
    akw = dict(values=ticks, labelFontSize=18, labelFont="DejaVu Sans", labelColor="black",
               ticks=False, tickSize=0, domain=False, grid=False, labelFlush=False,
               labelPadding=0, format="d")
    if axis_title:
        axis = alt.Axis(title=axis_title, titleFontSize=18, titleFont="DejaVu Sans",
                        titleFontWeight="normal", titleColor="black", titlePadding=3, **akw)
    else:
        axis = alt.Axis(title=None, **akw)
    rules = alt.Chart(bl).mark_rule(color="#a8a8a8", strokeWidth=0.8).encode(
        x=alt.X("x:Q", scale=xs, axis=axis), x2="x1:Q",
        y=alt.Y("base:Q", scale=ys, axis=None))
    areas = alt.Chart(df).mark_area(
        fill="black", fillOpacity=1, stroke="white", strokeWidth=1.1, interpolate="monotone"
    ).encode(
        x=alt.X("x:Q", scale=xs, axis=axis),
        y=alt.Y("top:Q", scale=ys, axis=None), y2="base:Q",
        detail="key:N")
    return alt.layer(rules, areas, *extra).properties(width=w, height=h)


def tau_label(sub):
    return [
        txt("Tau", 52, 643, 16, font="DejaVu Serif", style="italic"),
        txt(sub, 82, 646, 12, font="DejaVu Serif", style="italic"),
        txt("(ms)", 94, 642, 18),
    ]


tau_e = panel(TAU_E_ROWS, 40, TAU_TICKS, [-1.76, 36.52], TAU_W, TAU_H, extra=tau_label(TAU_SUBS[0]))
tau_i = panel(TAU_I_ROWS, 40, TAU_TICKS, [-1.78, 36.79], TAU_W, TAU_H,
              extra=tau_label(TAU_SUBS[1]) + [txt(TITLE_TAU, TAU_W / 2, -14.5, 17.5, align="center")])
tau_c = panel(TAU_C_ROWS, 40, TAU_TICKS, [-1.80, 37.37], TAU_W, TAU_H, extra=tau_label(TAU_SUBS[2]))
alpha = panel(ALPHA_ROWS, 5, ALPHA_TICKS, [0, 34.41], AS_W, AS_H, axis_title="alpha",
              extra=[txt(TITLE_AS, 191.5, -13.5, 16, align="center")])
speed = panel(SPEED_ROWS, 20, SPEED_TICKS, [0, 35.65], AS_W, AS_H, axis_title="speed")

spacer = alt.Chart(pd.DataFrame({"v": [0]})).mark_point(opacity=0).encode(
    x=alt.X("v:Q", axis=None), y=alt.Y("v:Q", axis=None)
).properties(width=98, height=TAU_H, view=alt.ViewBackground(strokeOpacity=0))

chart = alt.hconcat(
    tau_e, tau_i, tau_c, spacer, alpha, speed, spacing=36, bounds="flush"
).properties(
    padding={"left": 8, "top": 6, "right": 2, "bottom": 2},
    background="white",
).configure_view(
    stroke="#b0b0b0", strokeWidth=1
).configure(font="DejaVu Sans")

chart.save("out.html", embed_options={"renderer": "svg", "actions": False})
